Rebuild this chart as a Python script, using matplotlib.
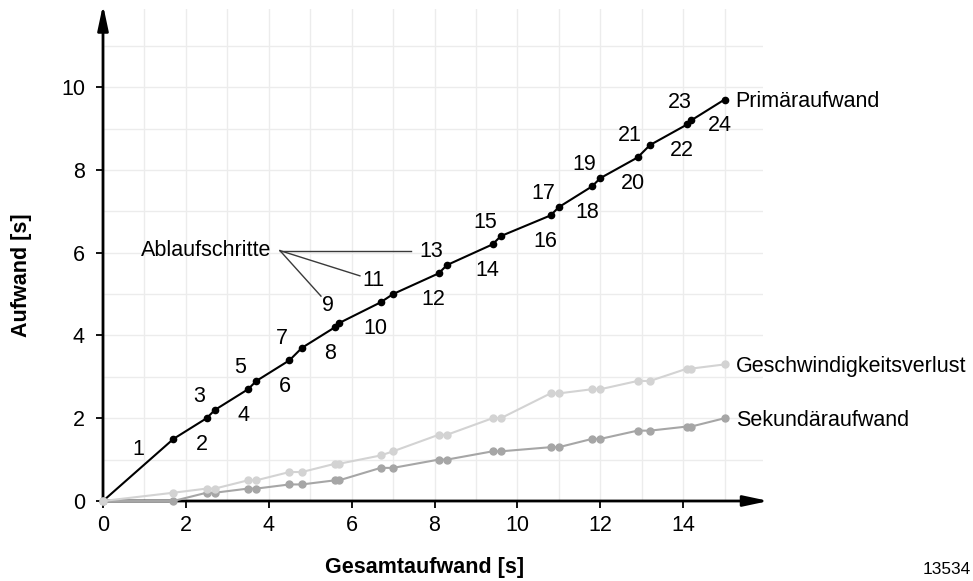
import matplotlib
matplotlib.use("Agg")
import matplotlib.pyplot as plt
import numpy as np

plt.rcParams['font.family'] = ['Liberation Sans', 'DejaVu Sans']

# Gesamtaufwand [s] at each step boundary
gesamt = [0, 1.7, 2.5, 2.7, 3.5, 3.7, 4.5, 4.8, 5.6, 5.7, 6.7, 7.0, 8.1, 8.3,
          9.4, 9.6, 10.8, 11.0, 11.8, 12.0, 12.9, 13.2, 14.1, 14.2, 15.0]
primaer = [0, 1.5, 2.0, 2.2, 2.7, 2.9, 3.4, 3.7, 4.2, 4.3, 4.8, 5.0, 5.5, 5.7,
           6.2, 6.4, 6.9, 7.1, 7.6, 7.8, 8.3, 8.6, 9.1, 9.2, 9.7]
geschw = [0, 0.2, 0.3, 0.3, 0.5, 0.5, 0.7, 0.7, 0.9, 0.9, 1.1, 1.2, 1.6, 1.6,
          2.0, 2.0, 2.6, 2.6, 2.7, 2.7, 2.9, 2.9, 3.2, 3.2, 3.3]
sekundaer = [0, 0, 0.2, 0.2, 0.3, 0.3, 0.4, 0.4, 0.5, 0.5, 0.8, 0.8, 1.0, 1.0,
             1.2, 1.2, 1.3, 1.3, 1.5, 1.5, 1.7, 1.7, 1.8, 1.8, 2.0]
schritte = list(range(1, 25))
leader_schritte = [9, 11, 13]

x_ticks = [0, 2, 4, 6, 8, 10, 12, 14]
y_ticks = [0, 2, 4, 6, 8, 10]

FS = 15.5
C_PRIM = '#000000'
C_GESCHW = '#d3d3d3'
C_SEK = '#a6a6a6'

fig = plt.figure(figsize=(9.73, 5.81), dpi=100)
ax = fig.add_axes([103 / 973, 80 / 581, 659.7 / 973, 491.7 / 581])
ax.set_xlim(0, 15.92)
ax.set_ylim(0, 11.88)

for s in ax.spines.values():
    s.set_visible(False)

ax.set_xticks(x_ticks)
ax.set_yticks(y_ticks)
ax.set_xticks(np.arange(1, 16), minor=True)
ax.set_yticks(np.arange(1, 12), minor=True)
ax.grid(which='both', color='#ececec', lw=1, zorder=0)
ax.set_axisbelow(True)
ax.tick_params(which='major', length=5, width=1.3, labelsize=FS, pad=5)
ax.tick_params(axis='y', pad=8)
ax.tick_params(which='minor', length=0)

# axes with arrow heads
arrow = dict(arrowstyle='-|>,head_length=1.5,head_width=0.32', lw=2,
             color='black', mutation_scale=10, shrinkA=0, shrinkB=0)
ax.annotate('', xy=(1.009, 0), xytext=(0, 0), xycoords='axes fraction',
            arrowprops=arrow, zorder=2, annotation_clip=False)
ax.annotate('', xy=(0, 1.009), xytext=(0, 0), xycoords='axes fraction',
            arrowprops=arrow, zorder=2, annotation_clip=False)

ax.plot(gesamt, primaer, color=C_PRIM, lw=1.5, marker='o', ms=4.5,
        zorder=4, clip_on=False)
ax.plot(gesamt, sekundaer, color=C_SEK, lw=1.5, marker='o', ms=5,
        zorder=5, clip_on=False)
ax.plot(gesamt, geschw, color=C_GESCHW, lw=1.5, marker='o', ms=5,
        zorder=6, clip_on=False)

# step numbers along the primary curve
labels = {}
for k in schritte:
    if k == 1:
        xy = ((gesamt[0] + gesamt[1]) / 2, (primaer[0] + primaer[1]) / 2)
        off = (0, 14.4)
    elif k % 2 == 1:
        xy = (gesamt[k - 1], primaer[k - 1])
        off = (-5.4, 15.8)
    else:
        xy = (gesamt[k], primaer[k])
        off = (-3.6, -18.7)
    labels[k] = ax.annotate(str(k), xy=xy, xytext=off, textcoords='offset points',
                            ha='center', va='center', fontsize=FS)

# "Ablaufschritte" with leader lines
hub = (4.27, 6.05)
leader_ends = {9: (5.26, 4.95), 11: (6.20, 5.44), 13: (7.43, 6.05)}
for k in leader_schritte:
    ex, ey = leader_ends[k]
    ax.plot([hub[0], ex], [hub[1], ey], color='#3a3a3a', lw=1, zorder=3)
ax.annotate('Ablaufschritte', xy=hub, xytext=(-6, 0), textcoords='offset points',
            ha='right', va='center', fontsize=FS)

# series names at the line ends
for ys, name in [(primaer, 'Primäraufwand'), (geschw, 'Geschwindigkeitsverlust'),
                 (sekundaer, 'Sekundäraufwand')]:
    ax.annotate(name, xy=(gesamt[-1], ys[-1]), xytext=(8, -1.5),
                textcoords='offset points', ha='left', va='center',
                fontsize=FS, annotation_clip=False)

fig.text(21.7 / 973, 1 - 275 / 581, 'Aufwand [s]', rotation=90, ha='center',
         va='center', fontsize=FS, fontweight='bold')
fig.text(425 / 973, 1 - 567.7 / 581, 'Gesamtaufwand [s]', ha='center',
         va='center', fontsize=FS, fontweight='bold')
fig.text(947 / 973, 1 - 570 / 581, '13534', ha='center', va='center',
         fontsize=12.4)

fig.savefig('out.png', dpi=100)
